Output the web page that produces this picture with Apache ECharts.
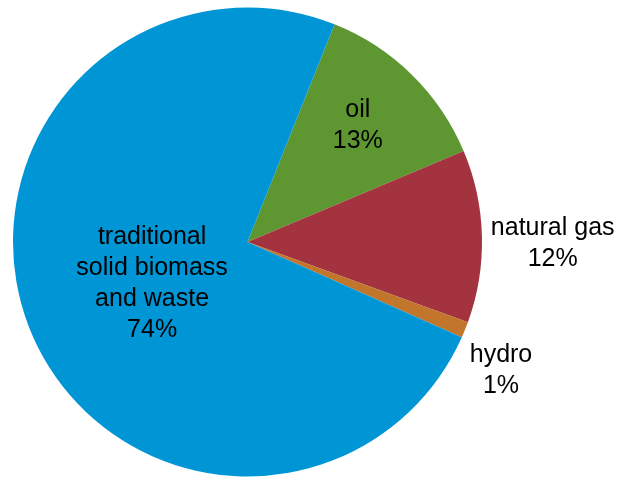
<!DOCTYPE html>
<html>
<head>
<meta charset="utf-8">
<script src="https://cdn.jsdelivr.net/npm/echarts@6/dist/echarts.min.js"></script>
<style>
html,body{margin:0;padding:0;background:#fff;}
#chart{width:619px;height:477px;}
</style>
</head>
<body>
<div id="chart"></div>
<script>
const categories = ['oil', 'natural gas', 'hydro', 'traditional\nsolid biomass\nand waste'];
const shares = [12.6, 11.9, 1.1, 74.4];
const colors = ['#5E9732', '#A2333F', '#C1762C', '#0096D6'];
const labelOffsets = [[26, -31], [185, 5], [142, 84], [16, -4]];

const chart = echarts.init(document.getElementById('chart'), null, {renderer: 'canvas'});
chart.setOption({
  animation: false,
  series: [{
    type: 'pie',
    center: [247.5, 242],
    radius: [0, 234.5],
    startAngle: 68.2,
    clockwise: true,
    avoidLabelOverlap: false,
    labelLine: {show: false},
    itemStyle: {borderWidth: 0},
    emphasis: {disabled: true},
    label: {
      show: true,
      position: 'inside',
      color: '#000',
      fontFamily: '"Liberation Sans", Arial, sans-serif',
      fontSize: 25,
      lineHeight: 31,
      textBorderWidth: 0,
      align: 'center',
      formatter: p => p.name + '\n' + Math.round(p.percent) + '%'
    },
    data: categories.map((c, i) => ({
      name: c,
      value: shares[i],
      itemStyle: {color: colors[i]},
      label: {offset: labelOffsets[i]}
    }))
  }]
});
</script>
</body>
</html>
